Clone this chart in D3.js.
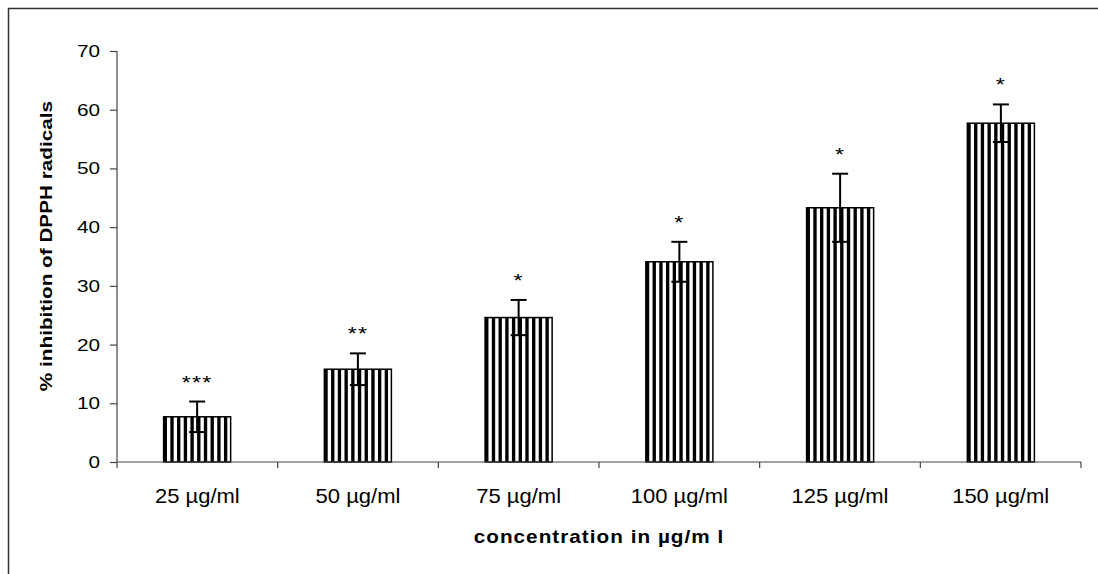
<!DOCTYPE html>
<html>
<head>
<meta charset="utf-8">
<script src="https://cdn.jsdelivr.net/npm/d3@7"></script>
<style>
  body { margin: 0; background: #fff; }
  text { font-family: Arial, "Liberation Sans", sans-serif; fill: #000; }
</style>
</head>
<body>
<div id="chart"></div>
<script>
// data
var categories = ["25 µg/ml", "50 µg/ml", "75 µg/ml", "100 µg/ml", "125 µg/ml", "150 µg/ml"];
var means = [7.7, 15.8, 24.6, 34.1, 43.3, 57.7];
var errors = [2.6, 2.7, 3.0, 3.4, 5.8, 3.2];
var stars = ["***", "**", "*", "*", "*", "*"];
var yTicks = [0, 10, 20, 30, 40, 50, 60, 70];

var width = 1098, height = 574,
    margin = {top: 51, right: 17, bottom: 112, left: 117};

// the original font is drawn wider than Arial
var stretch = 1.22;

var svg = d3.select("#chart").append("svg")
  .attr("width", width)
  .attr("height", height);

// outer frame
svg.append("rect")
  .attr("x", 8.5).attr("y", 8.5)
  .attr("width", width + 10).attr("height", height + 10)
  .style("fill", "none")
  .style("stroke", "#333")
  .style("stroke-width", 1.5);

var x = d3.scaleBand()
  .domain(categories)
  .range([margin.left, width - margin.right])
  .paddingInner(0.583)
  .paddingOuter(0.29);

// separate band for ticks at category boundaries
var xEdge = d3.scaleBand()
  .domain(categories)
  .range([margin.left, width - margin.right]);

var y = d3.scaleLinear()
  .domain([0, 70])
  .range([height - margin.bottom, margin.top]);

var data = categories.map(function(c, i) {
  return {cat: c, value: means[i], err: errors[i], star: stars[i]};
});

// bars with vertical stripes
var bars = svg.selectAll(".bar")
  .data(data)
  .enter().append("g")
  .attr("class", "bar");

bars.append("rect")
  .attr("x", function(d) { return x(d.cat); })
  .attr("y", function(d) { return y(d.value); })
  .attr("width", x.bandwidth())
  .attr("height", function(d) { return y(0) - y(d.value); })
  .style("fill", "#fff");

var period = x.bandwidth() / 10;
bars.each(function(d) {
  var g = d3.select(this);
  g.selectAll("rect.stripe")
    .data(d3.range(10))
    .enter().append("rect")
    .attr("class", "stripe")
    .attr("x", function(i) { return x(d.cat) + i * period; })
    .attr("y", y(d.value))
    .attr("width", period * 0.5)
    .attr("height", y(0) - y(d.value))
    .style("fill", "#000");
});

bars.append("rect")
  .attr("x", function(d) { return x(d.cat); })
  .attr("y", function(d) { return y(d.value); })
  .attr("width", x.bandwidth())
  .attr("height", function(d) { return y(0) - y(d.value); })
  .style("fill", "none")
  .style("stroke", "#000")
  .style("stroke-width", 1.5);

// error bars
var cx = function(d) { return x(d.cat) + x.bandwidth() / 2; };
bars.append("line")
  .attr("x1", cx).attr("x2", cx)
  .attr("y1", function(d) { return y(d.value + d.err); })
  .attr("y2", function(d) { return y(d.value - d.err); })
  .style("stroke", "#000").style("stroke-width", 2);
bars.append("line")
  .attr("x1", function(d) { return cx(d) - 8; })
  .attr("x2", function(d) { return cx(d) + 8; })
  .attr("y1", function(d) { return y(d.value + d.err); })
  .attr("y2", function(d) { return y(d.value + d.err); })
  .style("stroke", "#000").style("stroke-width", 2);
bars.append("line")
  .attr("x1", function(d) { return cx(d) - 8; })
  .attr("x2", function(d) { return cx(d) + 8; })
  .attr("y1", function(d) { return y(d.value - d.err); })
  .attr("y2", function(d) { return y(d.value - d.err); })
  .style("stroke", "#000").style("stroke-width", 2);

// significance stars
bars.append("text")
  .attr("transform", function(d) {
    return "translate(" + cx(d) + "," + (y(d.value + d.err) - 13) + ") scale(" + stretch + ",1)";
  })
  .attr("text-anchor", "middle")
  .style("font-size", "19px")
  .style("letter-spacing", "1px")
  .text(function(d) { return d.star; });

// y axis
var yAxis = svg.append("g")
  .attr("transform", "translate(" + margin.left + ",0)")
  .call(d3.axisLeft(y).tickValues(yTicks).tickSize(7).tickPadding(9));
yAxis.selectAll("text")
  .attr("x", null)
  .attr("transform", "translate(-17,0) scale(" + stretch + ",1)")
  .style("font-size", "17px");
yAxis.selectAll("path, line").style("stroke", "#444").style("stroke-width", 1.2);
yAxis.select(".domain").attr("d", "M0," + y(70) + "V" + y(0));

// x axis, ticks at category boundaries
var edges = categories.map(function(c) { return xEdge(c); })
  .concat([width - margin.right]);
var xAxisG = svg.append("g");
xAxisG.append("line")
  .attr("x1", margin.left).attr("x2", width - margin.right)
  .attr("y1", y(0)).attr("y2", y(0));
xAxisG.selectAll(".tk")
  .data(edges)
  .enter().append("line")
  .attr("x1", function(d) { return d; }).attr("x2", function(d) { return d; })
  .attr("y1", y(0)).attr("y2", y(0) + 6);
xAxisG.selectAll("line").style("stroke", "#444").style("stroke-width", 1.2);
xAxisG.selectAll(".lbl")
  .data(categories)
  .enter().append("text")
  .attr("transform", function(d) {
    return "translate(" + (xEdge(d) + xEdge.bandwidth() / 2) + "," + (y(0) + 41) + ") scale(1.1,1)";
  })
  .attr("text-anchor", "middle")
  .style("font-size", "20px")
  .text(function(d) { return d; });

// axis titles
svg.append("text")
  .attr("transform", "translate(" + ((margin.left + width - margin.right) / 2) + "," + (y(0) + 81) + ") scale(1.15,1)")
  .attr("text-anchor", "middle")
  .style("font-size", "18px")
  .style("font-weight", "bold")
  .style("letter-spacing", "0.9px")
  .text("concentration in µg/m l");

svg.append("text")
  .attr("transform", "translate(52,246) rotate(-90) scale(" + stretch + ",1)")
  .attr("text-anchor", "middle")
  .style("font-size", "17px")
  .style("font-weight", "bold")
  .text("% inhibition of DPPH radicals");
</script>
</body>
</html>
